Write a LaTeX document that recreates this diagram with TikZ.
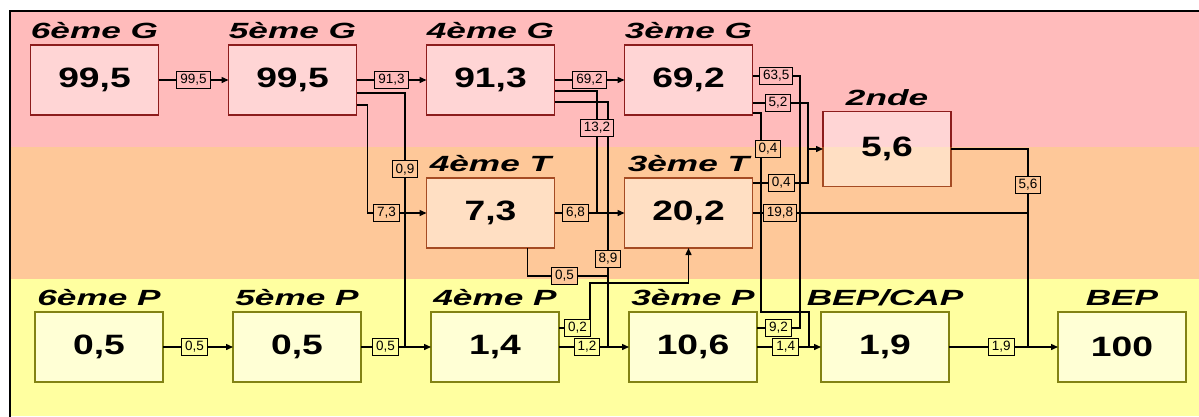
\documentclass[tikz,border=0pt]{standalone}
\usepackage{fontspec}
\setmainfont{Liberation Sans}
\newfontfamily\ttlfont[FakeStretch=1.6]{Liberation Sans}
\newfontfamily\numfont[FakeStretch=1.33]{Liberation Sans}
\usetikzlibrary{positioning,arrows.meta}

\definecolor{bandG}{RGB}{255,187,187}
\definecolor{bandT}{RGB}{254,200,153}
\definecolor{bandP}{RGB}{255,255,160}
\definecolor{fillG}{RGB}{255,213,213}
\definecolor{fillT}{RGB}{255,223,195}
\definecolor{fillP}{RGB}{255,255,213}
\definecolor{lineG}{RGB}{140,28,28}
\definecolor{lineT}{RGB}{165,75,35}
\definecolor{lineP}{RGB}{130,130,20}

\tikzset{
  level/.style={line width=1.8pt, outer sep=0pt, minimum width=128pt,
    minimum height=70pt, font=\numfont\bfseries\fontsize{28}{30}\selectfont},
  gbox/.style={level, draw=lineG, fill=fillG},
  tbox/.style={level, draw=lineT, fill=fillT},
  pbox/.style={level, draw=lineP, fill=fillP},
  ttl/.style={inner sep=0pt, font=\ttlfont\bfseries\itshape\fontsize{22}{24}\selectfont},
  val/.style={draw, fill=#1, line width=1pt, inner xsep=3.5pt, inner ysep=1pt,
    minimum height=17pt, font=\fontsize{13.5}{14}\selectfont},
  link/.style={line width=1.4pt},
  flow/.style={link, -{Triangle[length=7pt,width=6pt]}}
}

\begin{document}
\begin{tikzpicture}[x=1pt,y=-1pt]
\useasboundingbox (0,0) rectangle (1199,416);
% fonds
\fill[bandG] (10,11) rectangle (1199,147);
\fill[bandT] (10,147) rectangle (1199,279);
\fill[bandP] (10,279) rectangle (1199,416);
\draw[line width=1.6pt] (10,11) rectangle (1210,425);

% voie generale
\node[gbox] (g6) at (94.5,80) {99,5};
\node[gbox, right=70pt of g6] (g5) {99,5};
\node[gbox, right=70pt of g5] (g4) {91,3};
\node[gbox, right=70pt of g4] (g3) {69,2};
% voie technique
\node[tbox, below=63pt of g4] (t4) {7,3};
\node[tbox, below=63pt of g3] (t3) {20,2};
% 2nde
\node[gbox, minimum height=75pt] (sec) at (887,149) {5,6};
\begin{scope}
  \clip (815,147) rectangle (960,195);
  \node[tbox, minimum height=75pt] (secb) at (887,149) {5,6};
\end{scope}
% voie professionnelle
\node[pbox] (p6) at (99,347) {0,5};
\node[pbox, right=70pt of p6] (p5) {0,5};
\node[pbox, right=70pt of p5] (p4) {1,4};
\node[pbox, right=70pt of p4] (p3) {10,6};
\node[pbox, right=64pt of p3] (bc) {1,9};
\node[pbox, right=109pt of bc] (bep) {100};

% titres
\node[ttl, above=6pt of g6] (tg6) {6ème G};
\node[ttl, above=6pt of g5] (tg5) {5ème G};
\node[ttl, above=6pt of g4] (tg4) {4ème G};
\node[ttl, above=6pt of g3] (tg3) {3ème G};
\node[ttl, above=6pt of t4] (tt4) {4ème T};
\node[ttl, above=6pt of t3] (tt3) {3ème T};
\node[ttl, above=6pt of sec] (tsec) {2nde};
\node[ttl, above=6pt of p6] (tp6) {6ème P};
\node[ttl, above=6pt of p5] (tp5) {5ème P};
\node[ttl, above=6pt of p4] (tp4) {4ème P};
\node[ttl, above=6pt of p3] (tp3) {3ème P};
\node[ttl, above=6pt of bc] (tbc) {BEP/CAP};
\node[ttl, above=6pt of bep] (tbep) {BEP};

% points de jonction
\coordinate (j09) at (405,347);
\coordinate (j132) at (597,213);
\coordinate (j89) at (608,347);
\coordinate (j05) at (608,276);
\coordinate (k02) at (590,283);
\coordinate (j635) at (800,213);
\coordinate (kb) at (808,149);
\coordinate (k04) at (761,312);
\coordinate (j14) at (809,347);
\coordinate (jb) at (1028,347);

% flux
\draw[flow] (g6) -- node[val=bandG]{99,5} (g5);
\draw[flow] (g5) -- node[val=bandG]{91,3} (g4);
\draw[flow] (g4) -- node[val=bandG]{69,2} (g3);
\draw[link] ([yshift=-13pt]g5.east) -| node[val=bandT, pos=0.65]{0,9} (j09);
\draw[flow] ([yshift=-25pt]g5.east) -- ++(11,0) |- node[val=bandT, pos=0.66]{7,3} (t4.west);
\draw[link] ([yshift=-22pt]g4.east) -| node[val=bandT, pos=0.82]{8,9} (j89);
\draw[link] ([yshift=-11pt]g4.east) -| node[val=bandG, pos=0.65]{13,2} (j132);
\draw[flow] (t4) -- node[val=bandT, pos=0.3]{6,8} (t3);
\draw[link] ([xshift=37pt]t4.south) |- node[val=bandT, pos=0.73]{0,5} (j05);
\draw[flow] (p6) -- node[val=bandP, pos=0.45]{0,5} (p5);
\draw[flow] (p5) -- node[val=bandP, pos=0.35]{0,5} (p4);
\draw[flow] (p4) -- node[val=bandP, pos=0.4]{1,2} (p3);
\draw[flow] ([yshift=19pt]p4.east) -| node[val=bandP, pos=0.3]{0,2} (k02) -| (t3.south);
\draw[link] ([yshift=4pt]g3.east) -| node[val=bandG, pos=0.25]{63,5} (j635);
\draw[link] ([yshift=19pt]p3.east) -| node[val=bandP, pos=0.25]{9,2} (j635);
\draw[link] ([yshift=-33pt]g3.east) -| node[val=bandT, pos=0.59, xshift=7pt]{0,4} (k04) -| (j14);
\draw[link] ([yshift=-23pt]g3.east) -| node[val=bandG, pos=0.23]{5,2} (kb);
\draw[link] ([yshift=30pt]t3.east) -| node[val=bandT, pos=0.26]{0,4} (kb);
\draw[flow] (kb) -- (sec);
\draw[link] (t3) -| node[val=bandT, pos=0.05]{19,8} (jb);
\draw[link] (sec) -| node[val=bandT, pos=0.59]{5,6} (jb);
\draw[flow] (p3) -- node[val=bandP, pos=0.45]{1,4} (bc);
\draw[flow] (bc) -- node[val=bandP, pos=0.48]{1,9} (bep);
\end{tikzpicture}
\end{document}
